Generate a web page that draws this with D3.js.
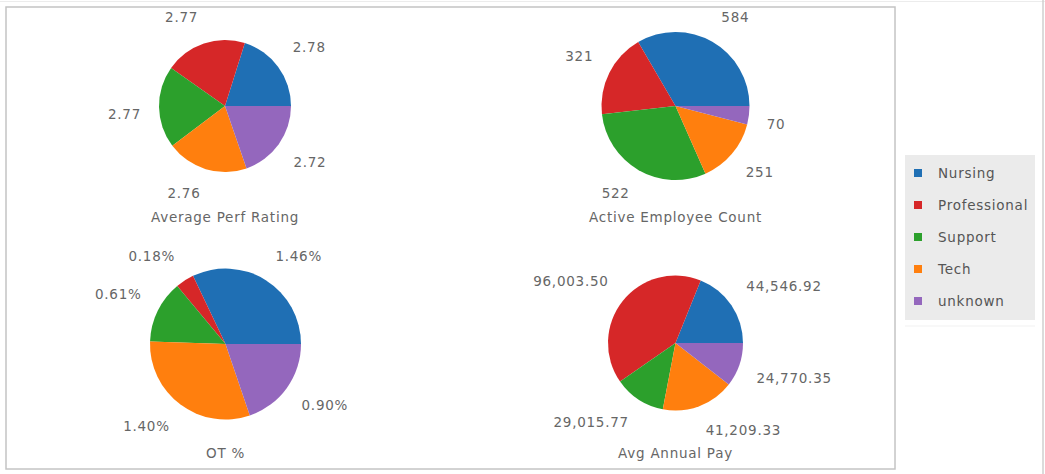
<!DOCTYPE html>
<html>
<head>
<meta charset="utf-8">
<script src="https://cdn.jsdelivr.net/npm/d3@7"></script>
<style>
  html, body { margin: 0; padding: 0; background: #fff; }
  svg { display: block; font-family: "DejaVu Sans", Verdana, sans-serif; }
  svg text { letter-spacing: 0.75px; }
</style>
</head>
<body>
<svg id="chart" width="1045" height="474"></svg>
<script>
const categories = ["Nursing", "Professional", "Support", "Tech", "unknown"];
const colors = ["#1f6fb4", "#d62728", "#2ca02c", "#ff7f0e", "#9467bd"];
const perfRating = [2.78, 2.77, 2.77, 2.76, 2.72];
const activeCount = [584, 321, 522, 251, 70];
const otPct = [1.46, 0.18, 0.61, 1.40, 0.90];
const avgPay = [44546.92, 96003.50, 29015.77, 41209.33, 24770.35];
const titles = ["Average Perf Rating", "Active Employee Count", "OT %", "Avg Annual Pay"];

const fmtPerf = d3.format(".2f");
const fmtCount = d3.format("d");
const fmtPct = v => d3.format(".2f")(v) + "%";
const fmtPay = d3.format(",.2f");

const panels = [
  { values: perfRating, title: titles[0], fmt: fmtPerf, cx: 225, cy: 106, r: 66, ty: 217 },
  { values: activeCount, title: titles[1], fmt: fmtCount, cx: 675.5, cy: 106, r: 74, ty: 217 },
  { values: otPct, title: titles[2], fmt: fmtPct, cx: 225.5, cy: 344, r: 75.5, ty: 453 },
  { values: avgPay, title: titles[3], fmt: fmtPay, cx: 675.5, cy: 343, r: 67.5, ty: 453 }
];

const FS = 13.5;
const svg = d3.select("#chart");
const color = d3.scaleOrdinal().domain(categories).range(colors);

// frame lines
svg.append("line").attr("x1", 0).attr("x2", 1045).attr("y1", 1.5).attr("y2", 1.5)
  .attr("stroke", "#ececec").attr("stroke-width", 1);
svg.append("line").attr("x1", 1043).attr("x2", 1043).attr("y1", 0).attr("y2", 474)
  .attr("stroke", "#cfcfcf").attr("stroke-width", 1.5);
svg.append("rect").attr("x", 6).attr("y", 7).attr("width", 889).attr("height", 462)
  .attr("fill", "#fff").attr("stroke", "#c4c4c4").attr("stroke-width", 1.5);

const pie = d3.pie().sort(null).value(d => d.v)
  .startAngle(Math.PI / 2).endAngle(Math.PI / 2 - 2 * Math.PI);

panels.forEach(p => {
  const g = svg.append("g").attr("transform", `translate(${p.cx},${p.cy})`);
  const data = categories.map((c, i) => ({ c, v: p.values[i] }));
  const arcs = pie(data);
  const arc = d3.arc().innerRadius(0).outerRadius(p.r);
  g.selectAll("path").data(arcs).join("path")
    .attr("d", arc)
    .attr("fill", d => color(d.data.c));

  const lr = p.r + 18;
  const labelArc = d3.arc().innerRadius(lr).outerRadius(lr);
  g.selectAll("text.lbl").data(arcs).join("text")
    .attr("class", "lbl")
    .attr("dy", "0.36em")
    .attr("font-size", FS)
    .attr("fill", "#666")
    .each(function(d) {
      const [x, y] = labelArc.centroid(d);
      const above = y < -1;
      d3.select(this).attr("x", x).attr("y", above ? y - 9 : y + 7)
        .attr("text-anchor", x >= 0 ? "start" : "end");
    })
    .text(d => p.fmt(d.data.v));

  svg.append("text")
    .attr("x", p.cx).attr("y", p.ty).attr("dy", "0.36em")
    .attr("text-anchor", "middle")
    .attr("font-size", FS).attr("fill", "#666")
    .text(p.title);
});

// legend
const lg = svg.append("g");
lg.append("rect").attr("x", 905).attr("y", 155).attr("width", 130).attr("height", 165)
  .attr("fill", "#ebebeb");
lg.append("line").attr("x1", 905).attr("x2", 1035).attr("y1", 326).attr("y2", 326)
  .attr("stroke", "#f1f1f1");
const ly = d3.scalePoint().domain(categories).range([173, 301]);
const items = lg.selectAll("g.item").data(categories).join("g").attr("class", "item")
  .attr("transform", d => `translate(0,${ly(d)})`);
items.append("rect").attr("x", 914).attr("y", -4).attr("width", 8).attr("height", 8)
  .attr("fill", d => color(d));
items.append("text").attr("x", 938).attr("dy", "0.36em")
  .attr("font-size", FS).attr("fill", "#555").text(d => d);
</script>
</body>
</html>
